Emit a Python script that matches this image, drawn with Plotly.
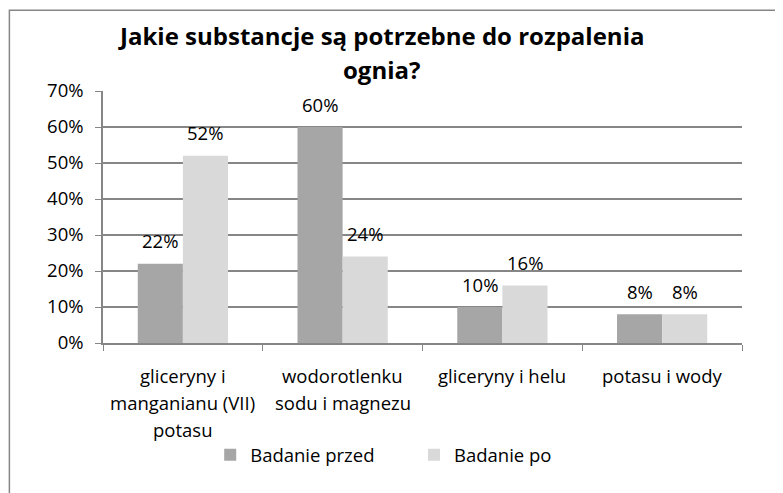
import plotly.graph_objects as go

cat_lines = [["gliceryny i", "manganianu (VII)", "potasu"],
             ["wodorotlenku", "sodu i magnezu"],
             ["gliceryny i helu"],
             ["potasu i wody"]]
categories = [" ".join(l) for l in cat_lines]
before = [0.22, 0.60, 0.10, 0.08]
after = [0.52, 0.24, 0.16, 0.08]
series_names = ["Badanie przed", "Badanie po"]
yticks = [0, 0.1, 0.2, 0.3, 0.4, 0.5, 0.6, 0.7]
title_lines = ["Jakie substancje są potrzebne do rozpalenia", "ognia?"]

FONT = "Open Sans"
FS = 18.5
OFF = 8  # page body margin
W, H = 783, 493
# plot area in page pixels: x 102.7..742.3, y 91..343.5
L = 102.7 - OFF
R = W - (742.3 - OFF)
T = 91 - OFF
B = H - (343.5 - OFF)
pw, ph = W - L - R, H - T - B
GAP = 0.435


def px(x):
    return (x - OFF - L) / pw


def py(y):
    return (H - B - (y - OFF)) / ph


fig = go.Figure()
fig.add_trace(go.Bar(x=categories, y=before, name=series_names[0], legend="legend",
                     marker=dict(color="#A6A6A6", line=dict(width=0))))
fig.add_trace(go.Bar(x=categories, y=after, name=series_names[1], legend="legend2",
                     marker=dict(color="#D9D9D9", line=dict(width=0))))

ann = []
bw = pw / len(categories) * (1 - GAP) / 2
for c, vb, va in zip(categories, before, after):
    for v, dx in ((vb, -bw / 2), (va, bw / 2)):
        ann.append(dict(x=c, y=v, xref="x", yref="y", text=f"{round(v*100)}%",
                        showarrow=False, xshift=dx, yshift=23, yanchor="middle",
                        font=dict(family=FONT, size=FS, color="#000")))
for c, lines in zip(categories, cat_lines):
    for i, t in enumerate(lines):
        ann.append(dict(x=c, y=0, xref="x", yref="y", text=t, showarrow=False,
                        yshift=-(376 - 343.5) - 27 * i, yanchor="middle",
                        font=dict(family=FONT, size=FS, color="#000")))
for i, t in enumerate(title_lines):
    ann.append(dict(x=px(381), y=py(35 + 34 * i), xref="paper", yref="paper",
                    text=f"<b>{t}</b>", showarrow=False, yanchor="middle",
                    font=dict(family=FONT, size=24, color="#000")))

leg_common = dict(orientation="h", xanchor="left", yanchor="middle", y=py(456),
                  itemwidth=30, font=dict(family=FONT, size=FS, color="#000"),
                  bgcolor="rgba(0,0,0,0)")
fig.update_layout(
    width=W, height=H, margin=dict(l=L, r=R, t=T, b=B),
    paper_bgcolor="white", plot_bgcolor="white",
    barmode="group", bargap=GAP, bargroupgap=0,
    annotations=ann,
    showlegend=True,
    legend=dict(x=px(252 - 42), **leg_common),
    legend2=dict(x=px(456 - 42), **leg_common),
    xaxis=dict(showticklabels=False, ticks="outside", tickson="boundaries",
               ticklen=6, tickcolor="#868686", showline=True, linecolor="#868686",
               linewidth=1.5, showgrid=False),
    yaxis=dict(range=[0, 0.7], tickvals=yticks, tickformat=".0%",
               ticks="outside", ticklen=6, tickcolor="#868686", showline=True,
               linecolor="#868686", linewidth=1.5, gridcolor="#868686", gridwidth=1.5,
               zeroline=False, ticklabelstandoff=8,
               tickfont=dict(family=FONT, size=FS, color="#000")),
    shapes=[dict(type="rect", xref="paper", yref="paper",
                 x0=(1 - L) / pw, x1=(820 - L) / pw,
                 y0=py(540), y1=py(10),
                 line=dict(color="#868686", width=1.5), layer="below")],
)
fig.write_html("out.html")
